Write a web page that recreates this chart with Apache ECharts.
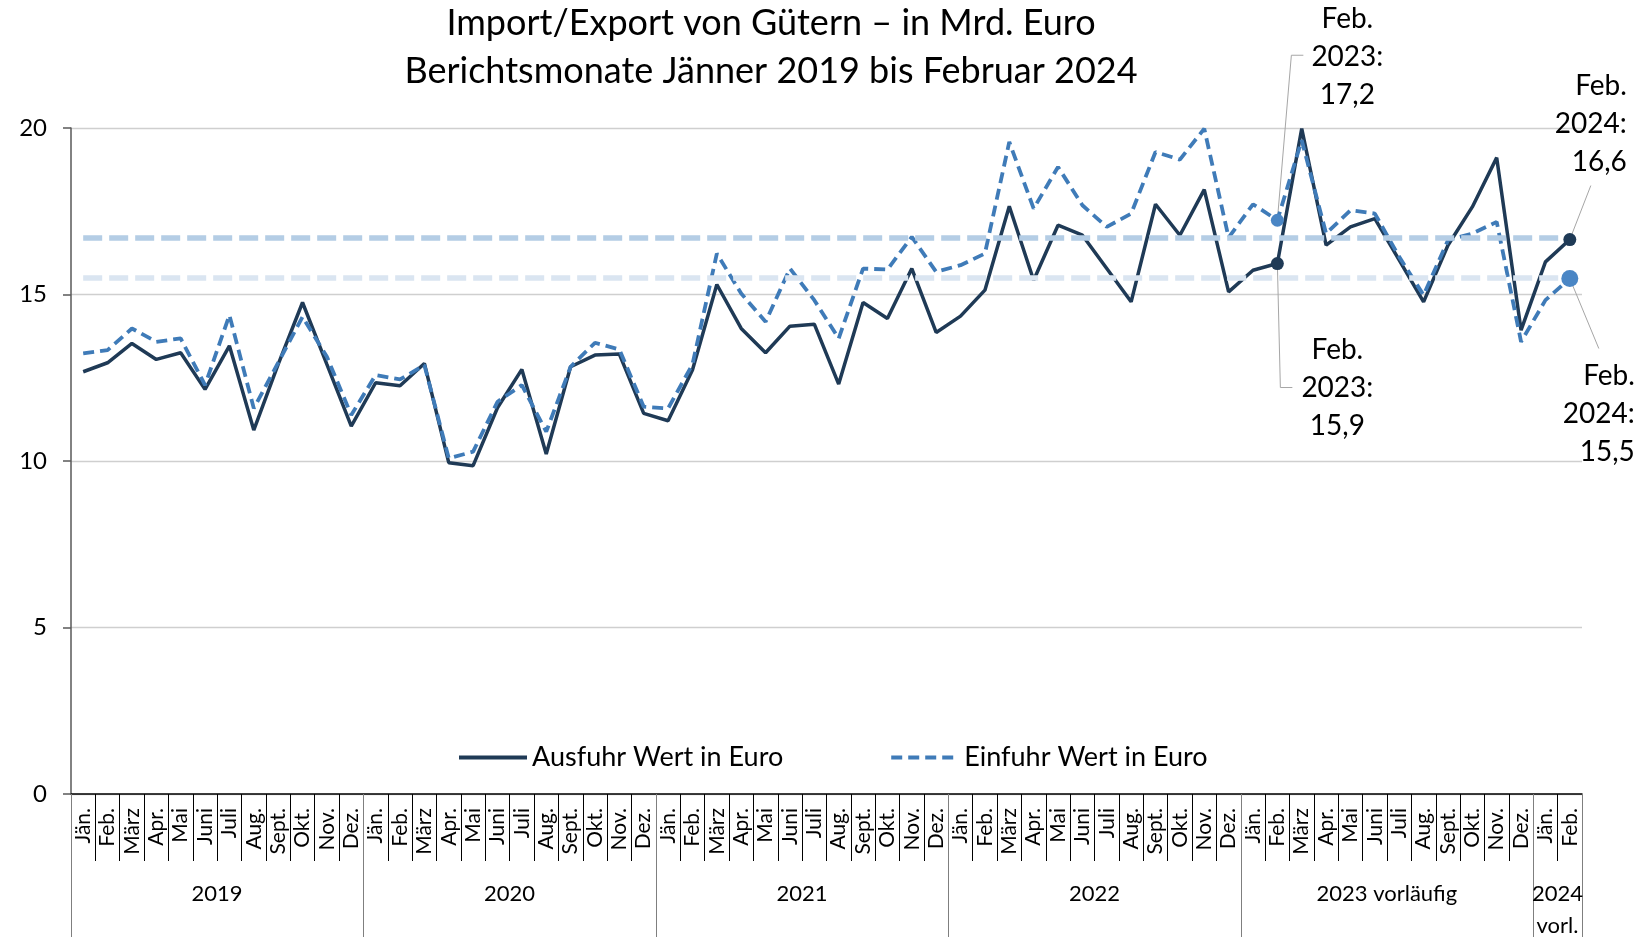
<!DOCTYPE html>
<html>
<head>
<meta charset="utf-8">
<title>Import/Export von Gütern</title>
<script src="https://cdn.jsdelivr.net/npm/echarts@6/dist/echarts.min.js"></script>
<style>
  html, body { margin: 0; padding: 0; background: #fff; }
  #chart { width: 1642px; height: 937px; }
</style>
</head>
<body>
<div id="chart"></div>
<script>
// Daten: Jän. 2019 bis Feb. 2024, Mrd. Euro
const monthNames = ['Jän.', 'Feb.', 'März', 'Apr.', 'Mai', 'Juni', 'Juli', 'Aug.', 'Sept.', 'Okt.', 'Nov.', 'Dez.'];
const yearLabels = ['2019', '2020', '2021', '2022', '2023 vorläufig', '2024\nvorl.'];
const monthsPerYear = [12, 12, 12, 12, 12, 2];

const ausfuhr = [
  12.68, 12.95, 13.53, 13.05, 13.25, 12.15, 13.46, 10.93, 12.9, 14.76, 12.9, 11.05,
  12.35, 12.26, 12.93, 9.95, 9.86, 11.6, 12.75, 10.21, 12.83, 13.18, 13.21, 11.43,
  11.21, 12.73, 15.3, 13.98, 13.25, 14.05, 14.11, 12.31, 14.76, 14.28, 15.78, 13.86,
  14.35, 15.13, 17.65, 15.43, 17.08, 16.78, 15.78, 14.78, 17.71, 16.78, 18.15, 15.08,
  15.73, 15.93, 19.98, 16.48, 17.03, 17.28, 16.03, 14.78, 16.48, 17.63, 19.11, 13.93,
  15.98, 16.65
];
const einfuhr = [
  13.23, 13.33, 13.98, 13.58, 13.68, 12.28, 14.38, 11.58, 12.95, 14.33, 13.13, 11.38,
  12.58, 12.45, 12.88, 10.08, 10.28, 11.78, 12.28, 10.88, 12.83, 13.55, 13.35, 11.63,
  11.58, 12.9, 16.23, 15.03, 14.18, 15.78, 14.83, 13.68, 15.78, 15.75, 16.73, 15.68,
  15.88, 16.23, 19.58, 17.58, 18.83, 17.68, 17.03, 17.43, 19.28, 19.05, 19.98, 16.71,
  17.71, 17.23, 19.63, 16.83, 17.53, 17.43, 16.13, 14.98, 16.63, 16.83, 17.18, 13.58,
  14.83, 15.48
];
const refLines = [16.7, 15.5];
const yTicks = [0, 5, 10, 15, 20];

const seriesNames = ['Ausfuhr Wert in Euro', 'Einfuhr Wert in Euro'];
const callouts = [
  { series: 1, index: 49, text: 'Feb.\n2023:\n17,2' },
  { series: 0, index: 49, text: 'Feb.\n2023:\n15,9' },
  { series: 0, index: 61, text: 'Feb.\n2024:\n16,6' },
  { series: 1, index: 61, text: 'Feb.\n2024:\n15,5' }
];

// Kategorien aufbauen
const months = [];
const yearLabelAt = {};
monthsPerYear.forEach((count, y) => {
  yearLabelAt[months.length + Math.floor((count - 1) / 2)] = yearLabels[y];
  for (let m = 0; m < count; m++) months.push(monthNames[m]);
});

const font = 'Lato, "Open Sans", sans-serif';
const colAus = '#1f3a56';
const colEin = '#3f7bb8';

const chart = echarts.init(document.getElementById('chart'));

const option = {
  animation: false,
  backgroundColor: '#fff',
  title: [
    { text: 'Import/Export von Gütern – in Mrd. Euro', left: 766, top: 0, textAlign: 'center',
      textStyle: { fontFamily: font, fontSize: 36, fontWeight: 'normal', color: '#000' } },
    { text: 'Berichtsmonate Jänner 2019 bis Februar 2024', left: 766, top: 48, textAlign: 'center',
      textStyle: { fontFamily: font, fontSize: 36, fontWeight: 'normal', color: '#000' } }
  ],
  legend: {
    data: seriesNames,
    left: 452,
    top: 739,
    itemWidth: 68,
    itemHeight: 14,
    itemGap: 106,
    itemStyle: { opacity: 0 },
    lineStyle: { width: 4 },
    textStyle: { fontFamily: font, fontSize: 27, color: '#000' }
  },
  grid: { left: 71, right: 60, top: 128, bottom: 143, outerBoundsMode: 'none', containLabel: false },
  xAxis: [
    {
      type: 'category',
      data: months,
      boundaryGap: true,
      axisLine: { show: true, lineStyle: { color: '#000', width: 1.5 } },
      axisTick: { show: true, interval: 0, length: 67, lineStyle: { color: '#000', width: 1 } },
      axisLabel: { interval: 0, rotate: 90, margin: 14, fontFamily: font, fontSize: 21, color: '#000' }
    },
    {
      type: 'category',
      data: months,
      position: 'bottom',
      boundaryGap: true,
      axisLine: { show: false },
      axisTick: {
        show: true, length: 143,
        interval: (i) => months[i] === monthNames[0],
        lineStyle: { color: '#7f7f7f', width: 1 }
      },
      axisLabel: {
        interval: (i) => yearLabelAt[i] !== undefined,
        formatter: (v, i) => yearLabelAt[i] || '',
        margin: 84,
        padding: [0, 0, 0, 24],
        lineHeight: 32,
        fontFamily: font, fontSize: 22, color: '#000'
      },
      splitLine: { show: false }
    }
  ],
  yAxis: {
    type: 'value',
    min: yTicks[0],
    max: yTicks[yTicks.length - 1],
    interval: yTicks[1] - yTicks[0],
    axisLine: { show: true, lineStyle: { color: '#595959', width: 1.5 } },
    axisTick: { show: true, length: 8, lineStyle: { color: '#595959', width: 1.5 } },
    axisLabel: { margin: 24, fontFamily: font, fontSize: 24, color: '#000' },
    splitLine: { lineStyle: { color: '#cfcfcf', width: 1.3 } }
  },
  series: [
    {
      name: 'ref',
      type: 'line',
      data: [],
      z: 1,
      silent: true,
      markLine: {
        silent: true,
        symbol: 'none',
        label: { show: false },
        data: refLines.map((v, k) => [
          { coord: [0, v], lineStyle: { color: k === 0 ? '#b4cde5' : '#dae5f1', width: 5.5, type: [19, 7] } },
          { coord: [months.length - 1, v] }
        ])
      }
    },
    {
      name: seriesNames[0],
      type: 'line',
      data: ausfuhr,
      z: 3,
      symbol: 'none',
      color: colAus,
      lineStyle: { color: colAus, width: 3.5 },
      markPoint: {
        symbol: 'circle',
        label: { show: false },
        itemStyle: { color: colAus },
        data: [
          { coord: [49, ausfuhr[49]], symbolSize: 13 },
          { coord: [61, ausfuhr[61]], symbolSize: 13 }
        ]
      }
    },
    {
      name: seriesNames[1],
      type: 'line',
      data: einfuhr,
      z: 4,
      symbol: 'none',
      color: colEin,
      lineStyle: { color: colEin, width: 3.8, type: [11, 6] },
      markPoint: {
        symbol: 'circle',
        label: { show: false },
        itemStyle: { color: '#4a86c5' },
        data: [
          { coord: [49, einfuhr[49]], symbolSize: 13 },
          { coord: [61, einfuhr[61]], symbolSize: 17 }
        ]
      }
    }
  ]
};

chart.setOption(option);

// Beschriftungen mit Führungslinien, an den Datenpunkten verankert
const data = [ausfuhr, einfuhr];
const placements = [
  { path: [[14, -165], [26, -165]], tx: 70, ty: -163, align: 'center' },
  { path: [[3, 124], [15, 124]], tx: 60, ty: 124, align: 'center' },
  { path: [[21, -54]], tx: 57, ty: -116, align: 'right' },
  { path: [[29, 70]], tx: 65, ty: 135, align: 'right' }
];
const graphics = [];
callouts.forEach((c, k) => {
  const p = chart.convertToPixel({ xAxisIndex: 0, yAxisIndex: 0 }, [c.index, data[c.series][c.index]]);
  const pl = placements[k];
  const pts = [p].concat(pl.path.map(d => [p[0] + d[0], p[1] + d[1]]));
  graphics.push({
    type: 'polyline', silent: true, z: 2,
    shape: { points: pts },
    style: { stroke: '#a6a6a6', lineWidth: 1, fill: null }
  });
  graphics.push({
    type: 'text', silent: true, z: 10,
    x: p[0] + pl.tx, y: p[1] + pl.ty,
    style: {
      text: c.text, fill: '#000', font: '28px ' + font,
      align: pl.align, verticalAlign: 'middle', lineHeight: 38
    }
  });
});
chart.setOption({ graphic: graphics });
</script>
</body>
</html>
